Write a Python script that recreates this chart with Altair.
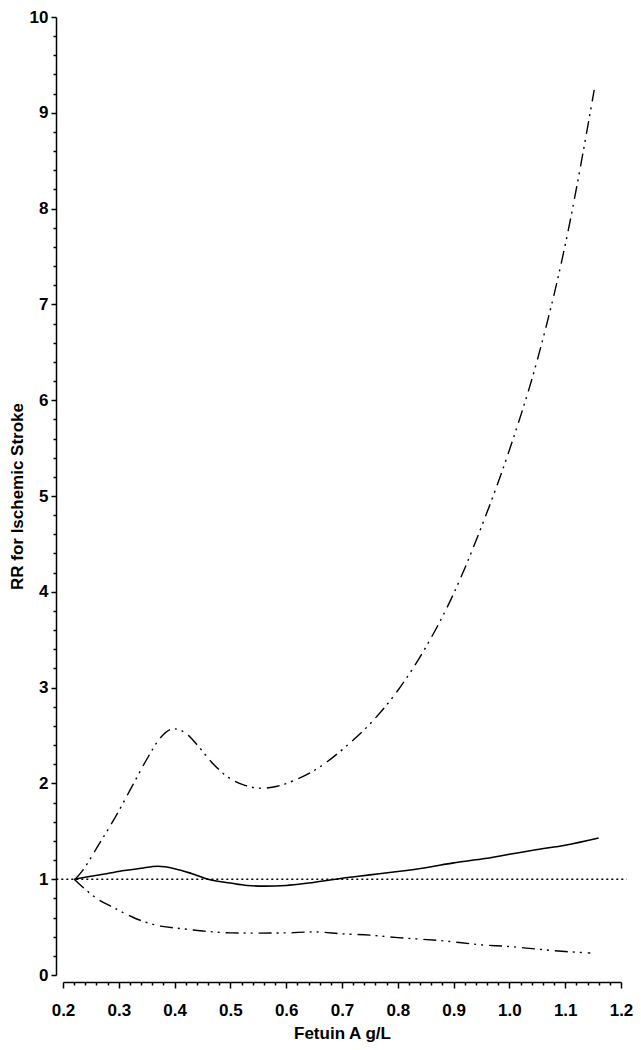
import altair as alt
import pandas as pd

# ---- data ----
fetuin_est = [0.22, 0.25, 0.28, 0.31, 0.34, 0.37, 0.40, 0.43, 0.46, 0.50, 0.53, 0.56,
              0.60, 0.64, 0.70, 0.75, 0.80, 0.85, 0.90, 0.95, 1.00, 1.05, 1.10, 1.16]
rr_est = [1.00, 1.03, 1.06, 1.09, 1.115, 1.135, 1.11, 1.06, 1.00, 0.96, 0.935, 0.928,
          0.935, 0.96, 1.01, 1.045, 1.08, 1.12, 1.17, 1.21, 1.26, 1.31, 1.355, 1.43]

fetuin_lower = [0.22, 0.24, 0.26, 0.29, 0.33, 0.375, 0.41, 0.45, 0.50, 0.55, 0.60, 0.65,
                0.70, 0.75, 0.80, 0.875, 0.95, 1.00, 1.05, 1.10, 1.145]
rr_lower = [1.00, 0.894, 0.80, 0.706, 0.59, 0.51, 0.485, 0.46, 0.44, 0.437, 0.44, 0.45,
            0.43, 0.416, 0.39, 0.36, 0.315, 0.297, 0.27, 0.245, 0.23]

fetuin_upper = [0.222, 0.235, 0.264, 0.293, 0.322, 0.351, 0.375, 0.398, 0.421, 0.445,
                0.468, 0.497, 0.526, 0.555, 0.584, 0.614, 0.643, 0.672, 0.70, 0.75,
                0.80, 0.85, 0.90, 0.95, 1.00, 1.05, 1.10, 1.152]
rr_upper = [1.00, 1.09, 1.36, 1.64, 1.95, 2.26, 2.48, 2.57, 2.52, 2.37,
            2.21, 2.06, 1.98, 1.95, 1.97, 2.03, 2.11, 2.22, 2.35, 2.62,
            2.97, 3.42, 3.98, 4.68, 5.48, 6.42, 7.62, 9.24]

ref_start = [0.188]
ref_end = [1.21]
ref_rr = [1.0]

x_ticks = [round(0.2 + 0.02 * i, 2) for i in range(51)]
y_ticks = [round(0.2 * i, 1) for i in range(51)]

# ---- tables ----
df = pd.concat([
    pd.DataFrame({"fetuin": fetuin_est, "rr": rr_est, "series": "est"}),
    pd.DataFrame({"fetuin": fetuin_lower, "rr": rr_lower, "series": "lower"}),
    pd.DataFrame({"fetuin": fetuin_upper, "rr": rr_upper, "series": "upper"}),
], ignore_index=True)
ref_df = pd.DataFrame({"fetuin": ref_start, "fetuin_end": ref_end, "rr": ref_rr})

FONT = "Liberation Sans"

x_major = "abs(datum.value*10 - round(datum.value*10)) < 0.001"
y_major = "abs(datum.value - round(datum.value)) < 0.001"

x_axis = alt.Axis(
    values=x_ticks,
    labelExpr=f"{x_major} ? format(datum.value, '.1f') : ''",
    tickSize={"condition": {"test": x_major, "value": 6}, "value": 3},
    labelFlush=False, labelOverlap=False, offset=7,
    labelPadding=14, titlePadding=7,
)
y_axis = alt.Axis(
    values=y_ticks,
    labelExpr=f"{y_major} ? format(datum.value, 'd') : ''",
    tickSize={"condition": {"test": y_major, "value": 5}, "value": 3},
    labelFlush=False, labelOverlap=False, offset=7,
    labelPadding=3, titlePadding=3,
)

x_enc = alt.X("fetuin:Q", scale=alt.Scale(domain=[0.2, 1.2], nice=False, zero=False),
              axis=x_axis, title="Fetuin A g/L")
y_enc = alt.Y("rr:Q", scale=alt.Scale(domain=[0, 10], nice=False, zero=False),
              axis=y_axis, title="RR for Ischemic Stroke")

base = alt.Chart(df).encode(x=x_enc, y=y_enc, order="fetuin:Q")

ci_dash = [13, 5, 2, 5, 2, 6]

ref_rule = alt.Chart(ref_df).mark_rule(color="black", strokeWidth=1.4, strokeDash=[2, 3]).encode(
    x=x_enc, x2="fetuin_end:Q", y=y_enc
)
est_line = base.transform_filter(alt.datum.series == "est").mark_line(
    color="black", strokeWidth=1.6, interpolate="monotone")
lower_line = base.transform_filter(alt.datum.series == "lower").mark_line(
    color="black", strokeWidth=1.4, strokeDash=ci_dash, interpolate="monotone")
upper_line = base.transform_filter(alt.datum.series == "upper").mark_line(
    color="black", strokeWidth=1.4, strokeDash=ci_dash, interpolate="monotone")

chart = alt.layer(ref_rule, est_line, lower_line, upper_line).properties(
    width=558, height=958,
    autosize=alt.AutoSizeParams(type="none"),
    padding={"left": 55, "top": 9, "right": 12, "bottom": 67},
).configure_view(stroke=None).configure_axis(
    grid=False,
    domainColor="black", domainWidth=1.5,
    tickColor="black", tickWidth=1.5,
    labelColor="black", labelFont=FONT, labelFontSize=17, labelFontWeight="bold",
    titleColor="black", titleFont=FONT, titleFontSize=17, titleFontWeight="bold",
)

chart.save("out.html", embed_options={"renderer": "svg", "actions": False})
